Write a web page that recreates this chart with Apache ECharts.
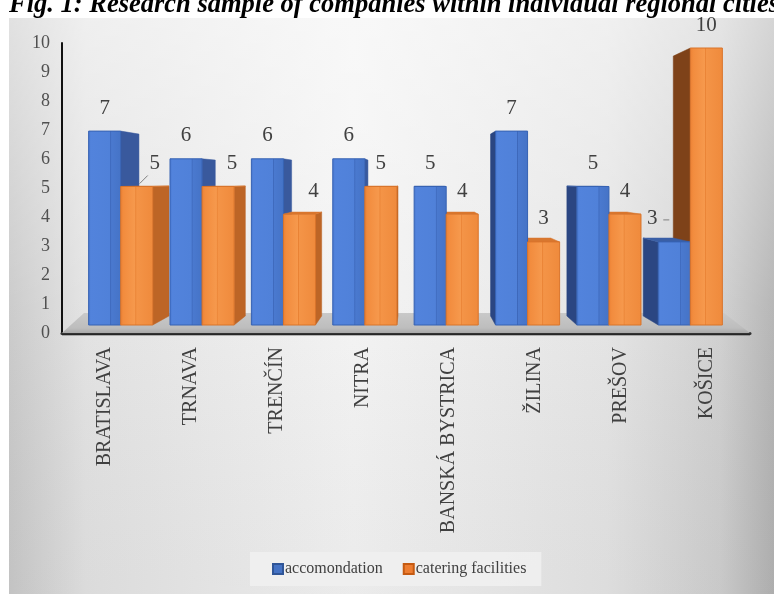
<!DOCTYPE html>
<html>
<head>
<meta charset="utf-8">
<script src="https://cdn.jsdelivr.net/npm/echarts@6/dist/echarts.min.js"></script>
<style>
  html, body { margin: 0; padding: 0; background: #ffffff; }
  #chart { width: 774px; height: 594px; }
</style>
</head>
<body>
<div id="chart"></div>
<script>
// Research sample: companies per regional city
const cities = ['BRATISLAVA', 'TRNAVA', 'TRENČÍN', 'NITRA', 'BANSKÁ BYSTRICA', 'ŽILINA', 'PREŠOV', 'KOŠICE'];
const accommodation = [7, 6, 6, 6, 5, 7, 5, 3];
const catering = [5, 5, 4, 5, 4, 3, 4, 10];
const seriesNames = ['accomondation', 'catering facilities'];
const titleText = 'Fig. 1: Research sample of companies within individual regional cities';

// label nudges (px) where the value label is moved off the bar centre
const accNudge = [0, 0, 0, 0, 0, 0, 0, -22];
const catNudge = [18, 14, 14, 0, 0, 0, 0, 0];
const accLeader = [false, false, false, false, false, false, false, true];
const catLeader = [true, false, false, false, false, false, false, false];

const SERIF = '"Liberation Serif", "Times New Roman", serif';
const TEXT = '#404040';
const DEPTH = 0.062;      // how far the back faces recede toward the vanishing point
const BAR_RATIO = 0.394;  // bar width relative to the category band

const palette = [
  { // blue
    front: { type: 'linear', x: 0, y: 0, x2: 1, y2: 0, colorStops: [
      { offset: 0, color: '#4674cb' }, { offset: 0.08, color: '#5283dc' },
      { offset: 0.66, color: '#5081d9' }, { offset: 0.68, color: '#3d68bb' },
      { offset: 0.71, color: '#4a79cf' }, { offset: 1, color: '#4573c6' }] },
    sideR: '#39599d', sideL: '#2b4682', top: '#3a5fa6', stroke: '#3662b3'
  },
  { // orange
    front: { type: 'linear', x: 0, y: 0, x2: 1, y2: 0, colorStops: [
      { offset: 0, color: '#ea7f33' }, { offset: 0.1, color: '#f28c3e' },
      { offset: 0.45, color: '#f6994d' }, { offset: 0.47, color: '#e98234' },
      { offset: 0.5, color: '#f49447' }, { offset: 1, color: '#ef8a3c' }] },
    sideR: '#bd6526', sideL: '#7e4219', top: '#d8772f', stroke: '#d9742b'
  }
];

function vanishPoint(cs) {
  return [cs.x + cs.width * 0.515, cs.y + cs.height * 0.473];
}
function recede(p, vp) {
  return [p[0] + (vp[0] - p[0]) * DEPTH, p[1] + (vp[1] - p[1]) * DEPTH];
}

function makeBarRenderer(which, nudges, leaders) {
  return function (params, api) {
    const idx = api.value(0);
    const val = api.value(1);
    const base = api.coord([idx, 0]);
    const topPt = api.coord([idx, val]);
    const band = api.size([1, 0])[0];
    const w = band * BAR_RATIO;
    const x0 = which === 0 ? base[0] - w : base[0];
    const x1 = x0 + w;
    const yT = topPt[1];
    const yB = base[1];
    const vp = vanishPoint(params.coordSys);
    const pal = palette[which];
    const kids = [];

    if (x1 < vp[0]) {
      const a = recede([x1, yT], vp), b = recede([x1, yB], vp);
      kids.push({ type: 'polygon', z2: 1, shape: { points: [[x1, yT], a, b, [x1, yB]] },
        style: { fill: pal.sideR, stroke: pal.sideR, lineWidth: 0.5 } });
    } else if (x0 > vp[0]) {
      const a = recede([x0, yT], vp), b = recede([x0, yB], vp);
      kids.push({ type: 'polygon', z2: 1, shape: { points: [[x0, yT], a, b, [x0, yB]] },
        style: { fill: pal.sideL, stroke: pal.sideL, lineWidth: 0.5 } });
    }
    if (yT > vp[1]) {
      kids.push({ type: 'polygon', z2: 2, shape: { points: [[x0, yT], [x1, yT], recede([x1, yT], vp), recede([x0, yT], vp)] },
        style: { fill: pal.top, stroke: pal.top, lineWidth: 0.5 } });
    }
    kids.push({ type: 'rect', z2: 3, shape: { x: x0, y: yT, width: w, height: yB - yT },
      style: { fill: pal.front, stroke: pal.stroke, lineWidth: 1 } });

    const lx = (x0 + x1) / 2 + nudges[idx];
    const ly = yT - 23;
    kids.push({ type: 'text', z2: 6, style: {
      x: lx, y: ly, text: String(val), align: 'center', verticalAlign: 'middle',
      font: '21px ' + SERIF, fill: TEXT } });
    if (leaders[idx]) {
      const pts = nudges[idx] > 0
        ? [[lx - 7, ly + 12], [(x0 + x1) / 2 + 3, yT - 3]]
        : [[lx + 11, ly + 1], [lx + 17, ly + 1]];
      kids.push({ type: 'polyline', z2: 6, shape: { points: pts },
        style: { stroke: '#7f7f7f', lineWidth: 1, fill: null } });
    }
    return { type: 'group', children: kids };
  };
}

// floor plane under the bars, shaped from the frame grid
function renderFloor(params) {
  const cs = params.coordSys;
  const yF = cs.y + cs.height;
  const xL = cs.x, xR = cs.x + cs.width;
  return {
    type: 'group',
    children: [
      { type: 'polygon', shape: { points: [[xL, yF], [xL + 22, yF - 20], [xR - 26, yF - 20], [xR, yF]] },
        style: { fill: { type: 'linear', x: 0, y: 0, x2: 0, y2: 1, colorStops: [
          { offset: 0, color: '#c9c9c9' }, { offset: 0.75, color: '#bdbdbd' }, { offset: 1, color: '#a9a9a9' }] } } },
      { type: 'line', shape: { x1: xL, y1: yF + 2, x2: xR, y2: yF + 2 },
        style: { stroke: 'rgba(0,0,0,0.25)', lineWidth: 2 } }
    ]
  };
}

const chart = echarts.init(document.getElementById('chart'), null, { renderer: 'canvas' });

const option = {
  animation: false,
  backgroundColor: '#ffffff',
  graphic: [
    { type: 'rect', z: -100, silent: true,
      shape: { x: 9, y: 18, width: 765, height: 576 },
      style: { fill: { type: 'linear', x: 0, y: 0, x2: 1, y2: 0, colorStops: [
        { offset: 0, color: '#c9c9c9' }, { offset: 0.1, color: '#e2e2e2' },
        { offset: 0.45, color: '#f3f3f3' }, { offset: 0.78, color: '#e4e4e4' },
        { offset: 0.93, color: '#cfcfcf' }, { offset: 1, color: '#b3b3b3' }] } } },
    { type: 'rect', z: -99, silent: true,
      shape: { x: 9, y: 18, width: 765, height: 576 },
      style: { fill: { type: 'linear', x: 0, y: 0, x2: 0, y2: 1, colorStops: [
        { offset: 0, color: 'rgba(255,255,255,0.45)' }, { offset: 0.5, color: 'rgba(255,255,255,0.05)' },
        { offset: 1, color: 'rgba(0,0,0,0.03)' }] } } },
    { type: 'text', z: 100, silent: true,
      style: { x: 9, y: 19, text: titleText, verticalAlign: 'bottom', align: 'left',
        font: 'italic bold 26.5px ' + SERIF, fill: '#000000' } }
  ],
  legend: {
    data: seriesNames,
    left: 250,
    top: 552,
    padding: [9, 15, 9, 22],
    itemWidth: 10,
    itemHeight: 10,
    itemGap: 20,
    icon: 'rect',
    backgroundColor: 'rgba(240,240,240,0.9)',
    textStyle: { fontFamily: SERIF, fontSize: 16, color: TEXT, padding: [0, 0, 0, -3] }
  },
  grid: [
    { left: 80, right: 43, top: 48, bottom: 269 },   // bars
    { left: 62, right: 24, top: 43, bottom: 261 }    // frame, ticks and category names
  ],
  xAxis: [
    { type: 'category', gridIndex: 0, data: cities, show: false },
    { type: 'category', gridIndex: 1, data: cities,
      axisLine: { show: true, lineStyle: { color: '#333333', width: 3 } },
      axisTick: { show: false },
      axisLabel: { rotate: 90, margin: 14, fontFamily: SERIF, fontSize: 20, color: TEXT, interval: 0 } }
  ],
  yAxis: [
    { type: 'value', gridIndex: 0, min: 0, max: 10, show: false },
    { type: 'value', gridIndex: 1, min: 0, max: 10, interval: 1,
      axisLine: { show: true, lineStyle: { color: '#111111', width: 2 } },
      axisTick: { show: false },
      splitLine: { show: false },
      axisLabel: { margin: 12, fontFamily: SERIF, fontSize: 18, color: '#505050' } }
  ],
  series: [
    { type: 'custom', name: 'floor', xAxisIndex: 1, yAxisIndex: 1, z: 1, silent: true,
      data: [[0, 0]], renderItem: renderFloor },
    { type: 'custom', name: seriesNames[0], xAxisIndex: 0, yAxisIndex: 0, z: 3,
      itemStyle: { color: '#4472c4', borderColor: '#2f5597', borderWidth: 1 },
      data: accommodation.map((v, i) => [i, v]),
      encode: { x: 0, y: 1 },
      renderItem: makeBarRenderer(0, accNudge, accLeader) },
    { type: 'custom', name: seriesNames[1], xAxisIndex: 0, yAxisIndex: 0, z: 3,
      itemStyle: { color: '#ed7d31', borderColor: '#c55a11', borderWidth: 1 },
      data: catering.map((v, i) => [i, v]),
      encode: { x: 0, y: 1 },
      renderItem: makeBarRenderer(1, catNudge, catLeader) }
  ]
};

chart.setOption(option);
</script>
</body>
</html>
